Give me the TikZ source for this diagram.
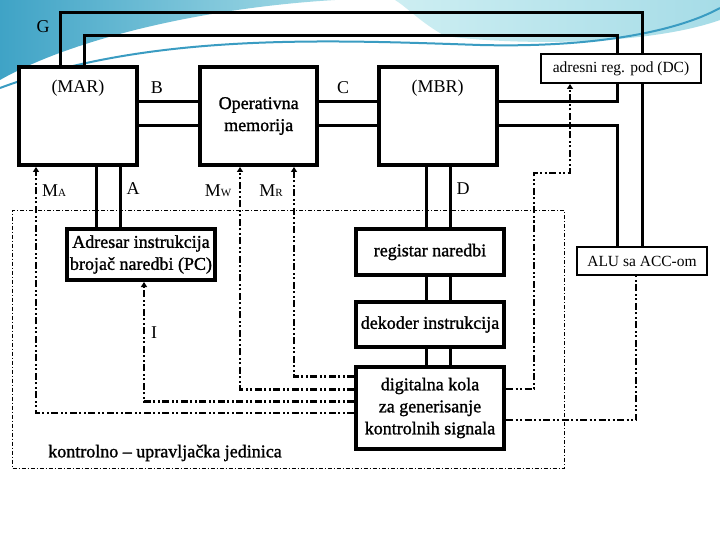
\documentclass[tikz,border=0pt]{standalone}
\usepackage{fontspec}
\setmainfont{Liberation Serif}
\newfontfamily\heavyfont{Liberation Serif}[FakeBold=1.3]
\usetikzlibrary{arrows.meta}
\definecolor{bgdark}{HTML}{3FA3C6}
\definecolor{bglight}{HTML}{A6DCE7}
\definecolor{bgpale}{HTML}{CDEEF2}
\definecolor{bgband}{HTML}{3A9CC2}
\pgfdeclarelayer{bg}
\pgfdeclarelayer{lines}
\pgfsetlayers{bg,lines,main}
\begin{document}
\begin{tikzpicture}[x=1pt,y=-1pt,
  bigbox/.style={draw, line width=4pt, inner sep=0pt, fill=white, align=center,
    font=\heavyfont\fontsize{18}{22}\selectfont},
  smallbox/.style={draw, line width=2pt, fill=white, inner sep=0pt,
    font=\fontsize{15.5}{17}\selectfont},
  conn/.style={line width=3pt},
  ctrl/.style={line width=2.5pt, dash pattern=on 7pt off 2.5pt on 2pt off 2.5pt on 2pt off 2.5pt},
  tip/.style={-{Triangle[length=5pt,width=6pt]}},
  lbl/.style={inner sep=0pt, font=\fontsize{18}{20}\selectfont},
  cu/.style={draw, line width=0.8pt, inner sep=0pt, dash pattern=on 4pt off 2pt on 1pt off 2pt}
]
\useasboundingbox (0,0) rectangle (720,540);

% background
\begin{pgfonlayer}{bg}
  \fill[white] (0,0) rectangle (720,540);
  \shade[left color=bgdark, right color=bglight] (0,0) -- (335,0) .. controls (200,8) and (70,40) .. (0,80) -- cycle;
  \shade[left color=bgpale, right color=bglight] (395,0) -- (720,0) -- (720,20) .. controls (650,45) and (520,46) .. (445,36) .. controls (420,22) and (408,8) .. (395,0) -- cycle;
  \draw[bgband, line width=2pt] (0,88) .. controls (150,32) and (330,40) .. (480,45) .. controls (600,48) and (680,30) .. (720,8);
\end{pgfonlayer}

% boxes
\node[bigbox, minimum width=118, minimum height=98] (mar) at (78,116) {};
\node[lbl] (marl) at (78,88) {(MAR)};
\node[bigbox, minimum width=117, minimum height=98] (om) at (258.7,116) {Operativna\\memorija};
\node[bigbox, minimum width=118, minimum height=98] (mbr) at (437.7,116) {};
\node[lbl] (mbrl) at (437.7,88) {(MBR)};
\node[smallbox, minimum width=160, minimum height=29] (adr) at (621,68.5) {adresni reg. pod (DC)};
\node[smallbox, minimum width=130, minimum height=28] (alu) at (642,261) {ALU sa ACC-om};
\node[bigbox, minimum width=148, minimum height=51] (pc) at (141,254.5) {Adresar instrukcija\\brojač naredbi (PC)};
\node[bigbox, minimum width=148, minimum height=46] (ir) at (430,252) {registar naredbi};
\node[bigbox, minimum width=148, minimum height=45] (dec) at (430,324.5) {dekoder instrukcija};
\node[bigbox, minimum width=148, minimum height=82] (dig) at (430,408) {digitalna kola\\za generisanje\\kontrolnih signala};
\node[cu, minimum width=551.6, minimum height=258.3] (cu) at (288.5,339.2) {};

% labels
\node[lbl] (g) at (43,27) {G};
\node[lbl] (b) at (157,88) {B};
\node[lbl] (c) at (343,88) {C};
\node[lbl] (a) at (133,189) {A};
\node[lbl] (d) at (463,189) {D};
\node[lbl] (i) at (154,333) {I};
\node[lbl] (ma) at (54,191) {M{\fontsize{11}{11}\selectfont A}};
\node[lbl] (mw) at (218,191) {M{\fontsize{11}{11}\selectfont W}};
\node[lbl] (mr) at (271,191) {M{\fontsize{11}{11}\selectfont R}};
\node[lbl, font=\heavyfont\fontsize{18}{20}\selectfont] (cul) at (165,453) {kontrolno – upravljačka jedinica};

\coordinate (gtr) at (642.7,12.7);
\coordinate (htr) at (617.7,36);
\coordinate (k1) at (534,173);

\begin{pgfonlayer}{lines}
  % data paths
  \draw[conn] ([xshift=-18pt]mar.north) |- (gtr) -- (gtr |- alu.north);
  \draw[conn] ([xshift=6.3pt]mar.north) |- (htr) |- ([yshift=14pt]mbr.east);
  \draw[conn] ([yshift=-10pt]mbr.east) -| (htr |- alu.north);
  \draw[conn] ([yshift=14pt]mar.east) -- ([yshift=14pt]om.west);
  \draw[conn] ([yshift=-10pt]mar.east) -- ([yshift=-10pt]om.west);
  \draw[conn] ([yshift=14pt]om.east) -- ([yshift=14pt]mbr.west);
  \draw[conn] ([yshift=-10pt]om.east) -- ([yshift=-10pt]mbr.west);
  \draw[conn] ([xshift=18.3pt]mar.south) -- ([xshift=-44.7pt]pc.north);
  \draw[conn] ([xshift=42pt]mar.south) -- ([xshift=-21pt]pc.north);
  \draw[conn] ([xshift=-11.7pt]mbr.south) -- ([xshift=-4pt]ir.north);
  \draw[conn] ([xshift=12.3pt]mbr.south) -- ([xshift=20pt]ir.north);
  \draw[conn] ([xshift=-4pt]ir.south) -- ([xshift=-4pt]dec.north);
  \draw[conn] ([xshift=20pt]ir.south) -- ([xshift=20pt]dec.north);
  \draw[conn] ([xshift=-4pt]dec.south) -- ([xshift=-4pt]dig.north);
  \draw[conn] ([xshift=20pt]dec.south) -- ([xshift=20pt]dig.north);
  % control signals
  \draw[ctrl,tip] ([yshift=-5pt]dig.west) -| ([xshift=-42pt]mar.south);
  \draw[ctrl,tip] ([yshift=6.3pt]dig.west) -| ([xshift=3pt]pc.south);
  \draw[ctrl,tip] ([yshift=18.7pt]dig.west) -| ([xshift=-18.7pt]om.south);
  \draw[ctrl,tip] ([yshift=31.3pt]dig.west) -| ([xshift=35.3pt]om.south);
  \draw[ctrl,tip] ([yshift=19pt]dig.east) -| (k1) -| ([xshift=-51pt]adr.south);
  \draw[ctrl] ([yshift=-12pt]dig.east) -| ([xshift=-6pt]alu.south);
\end{pgfonlayer}
\end{tikzpicture}
\end{document}
